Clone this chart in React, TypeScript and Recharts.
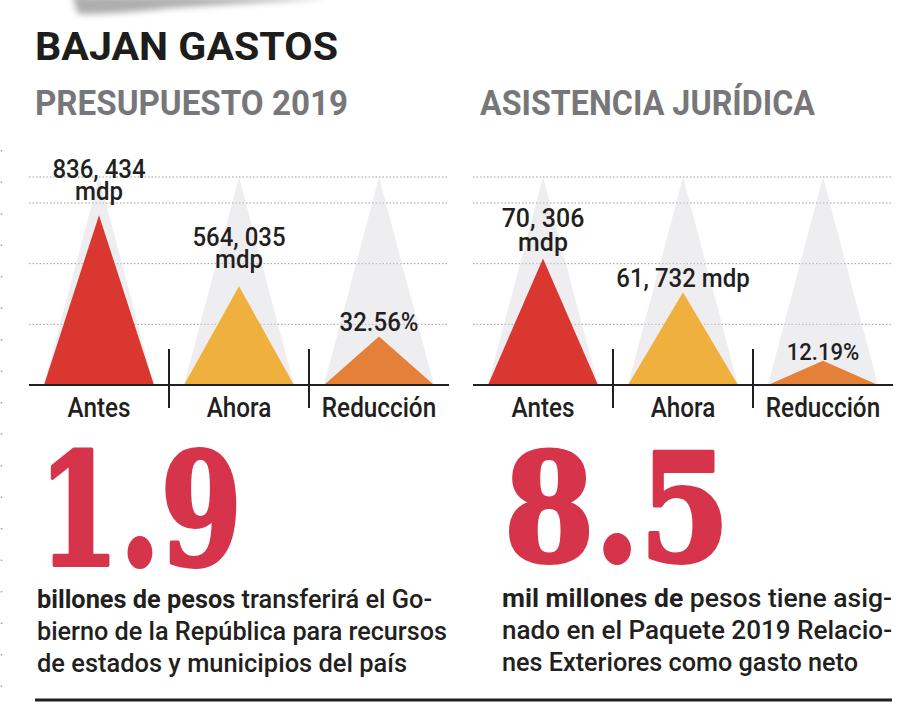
import { Bar, BarChart, CartesianGrid, LabelList, XAxis, YAxis } from 'recharts';

// Categorías compartidas por los dos paneles
const categorias = ['Antes', 'Ahora', 'Reducción'];

// Presupuesto 2019
const presupuestoValores = [836434, 564035, 32.56];
const presupuestoEtiquetas = [['836, 434', 'mdp'], ['564, 035', 'mdp'], ['32.56%']];
const presupuestoAltura = [98, 57, 28];

// Asistencia jurídica
const asistenciaValores = [70306, 61732, 12.19];
const asistenciaEtiquetas = [['70, 306', 'mdp'], ['61, 732 mdp'], ['12.19%']];
const asistenciaAltura = [73, 53.5, 14];

// escala visual (el triángulo gris llega al tope)
const escalaMax = 120;
const lineasGuia = [35, 70, 105];

const colores = ['#d9372f', '#efb03e', '#e48037'];
const FUENTE = "Roboto, 'DejaVu Sans', sans-serif";
const SERIF = "'DejaVu Serif', 'Liberation Serif', serif";
const TINTA = '#231f20';
const BANDA = 140;

function Triangulo(props: any) {
  const { x, y, width, height, fill, opacity } = props;
  if (!width || height == null) return null;
  const d = `M${x},${y + height} L${x + width / 2},${y} L${x + width},${y + height} Z`;
  return <path d={d} fill={fill} opacity={opacity} />;
}

function TickCategoria(props: any) {
  const { x, y, payload, index } = props;
  return (
    <g>
      {index > 0 && (
        <line x1={x - BANDA / 2} x2={x - BANDA / 2} y1={y - 36} y2={y + 23} stroke={TINTA} strokeWidth={2} />
      )}
      <text
        transform={`translate(${x} ${y + 32}) scale(0.9 1)`}
        textAnchor="middle"
        fontSize={27}
        fontWeight={500}
        fontFamily={FUENTE}
        fill={TINTA}
      >
        {payload.value}
      </text>
    </g>
  );
}

interface PanelProps {
  valores: number[];
  alturas: number[];
  etiquetas: string[][];
  separacion: number[];
  tamanos: number[];
  interlinea: number;
  margenIzq: number;
  ancho: number;
}

function Panel({ valores, alturas, etiquetas, separacion, tamanos, interlinea, margenIzq, ancho }: PanelProps) {
  const datos = categorias.map((c, i) => ({ categoria: c, valor: valores[i], altura: alturas[i] }));

  const renderEtiqueta = (p: any) => {
    const { x, y, width, index } = p;
    const lineas = etiquetas[index];
    const cx = x + width / 2;
    const base = y - separacion[index];
    return (
      <g>
        {lineas.map((t, k) => (
          <text
            key={k}
            transform={`translate(${cx} ${base - (lineas.length - 1 - k) * interlinea}) scale(0.96 1)`}
            textAnchor="middle"
            fontSize={tamanos[index]}
            fontWeight={500}
            fontFamily={FUENTE}
            fill={TINTA}
          >
            {t}
          </text>
        ))}
      </g>
    );
  };

  return (
    <BarChart
      width={ancho}
      height={280}
      data={datos}
      margin={{ top: 27, right: ancho - margenIzq - 3 * BANDA, bottom: 5, left: margenIzq }}
      barSize={110}
    >
      <CartesianGrid horizontal vertical={false} stroke="#9b9b9b" strokeDasharray="1.5 2" />
      <YAxis hide type="number" domain={[0, escalaMax]} ticks={lineasGuia} />
      <XAxis
        dataKey="categoria"
        height={40}
        tickSize={0}
        tickMargin={0}
        tickLine={false}
        axisLine={{ stroke: TINTA, strokeWidth: 2 }}
        tick={(p: any) => <TickCategoria {...p} />}
        interval={0}
      />
      <Bar
        dataKey="altura"
        isAnimationActive={false}
        background={(p: any) => <Triangulo {...p} fill="#d9d9de" opacity={0.45} />}
        shape={(p: any) => <Triangulo {...p} fill={colores[p.index]} />}
      >
        <LabelList dataKey="altura" content={renderEtiqueta} />
      </Bar>
    </BarChart>
  );
}

export default function App() {
  return (
    <div
      style={{
        position: 'absolute',
        left: 0,
        top: 0,
        width: 900,
        height: 706,
        background: '#fff',
        overflow: 'hidden',
        fontFamily: FUENTE,
      }}
    >
      <div style={{ position: 'absolute', left: 0, top: 150 }}>
        <Panel
          valores={presupuestoValores}
          alturas={presupuestoAltura}
          etiquetas={presupuestoEtiquetas}
          separacion={[15, 18, 5]}
          tamanos={[25, 25, 25]}
          interlinea={22}
          margenIzq={29}
          ancho={460}
        />
      </div>
      <div style={{ position: 'absolute', left: 460, top: 150 }}>
        <Panel
          valores={asistenciaValores}
          alturas={asistenciaAltura}
          etiquetas={asistenciaEtiquetas}
          separacion={[7, 5, 1]}
          tamanos={[26, 25, 23]}
          interlinea={24}
          margenIzq={13}
          ancho={440}
        />
      </div>

      <svg width={900} height={706} style={{ position: 'absolute', left: 0, top: 0, pointerEvents: 'none' }}>
        <defs>
          <filter id="sombra" x="-20%" y="-100%" width="140%" height="300%">
            <feGaussianBlur stdDeviation="3" />
          </filter>
        </defs>
        <path d="M72,-4 L78,14 Q110,15 170,8 L330,-2 Z" fill="#9a9a9a" filter="url(#sombra)" opacity={0.8} />
        <line x1={1.5} x2={1.5} y1={150} y2={706} stroke="#666" strokeDasharray="1.5 30" strokeWidth={1.5} opacity={0.6} />

        <text x={35} y={60} fontSize={39} fontWeight={700} fill="#1d1d1b" fontFamily={FUENTE} textLength={303} lengthAdjust="spacingAndGlyphs">
          BAJAN GASTOS
        </text>
        <text x={35} y={115} fontSize={35} fontWeight={700} fill="#77777a" fontFamily={FUENTE} textLength={313} lengthAdjust="spacingAndGlyphs">
          PRESUPUESTO 2019
        </text>
        <text x={480} y={115} fontSize={35} fontWeight={700} fill="#77777a" fontFamily={FUENTE} textLength={335} lengthAdjust="spacingAndGlyphs">
          ASISTENCIA JURÍDICA
        </text>

        <text x={38} y={565} fontSize={156} fontWeight={700} fill="#d6344b" stroke="#d6344b" strokeWidth={4} strokeLinejoin="round" fontFamily={SERIF} textLength={204} lengthAdjust="spacingAndGlyphs">
          1.9
        </text>
        <text x={504} y={561} fontSize={150} fontWeight={700} fill="#d6344b" stroke="#d6344b" strokeWidth={4} strokeLinejoin="round" fontFamily={SERIF} textLength={226} lengthAdjust="spacingAndGlyphs">
          8.5
        </text>

        <g fontSize={26} fontWeight={500} fontFamily={FUENTE} fill={TINTA}>
          <text x={37} y={608} textLength={395} lengthAdjust="spacingAndGlyphs">
            <tspan fontWeight={700}>billones de pesos</tspan> transferirá el Go-
          </text>
          <text x={37} y={640} textLength={410} lengthAdjust="spacingAndGlyphs">bierno de la República para recursos</text>
          <text x={37} y={672} textLength={370} lengthAdjust="spacingAndGlyphs">de estados y municipios del país</text>

          <text x={502} y={607} textLength={390} lengthAdjust="spacingAndGlyphs">
            <tspan fontWeight={700}>mil millones de</tspan> pesos tiene asig-
          </text>
          <text x={502} y={639} textLength={390} lengthAdjust="spacingAndGlyphs">nado en el Paquete 2019 Relacio-</text>
          <text x={502} y={671} textLength={356} lengthAdjust="spacingAndGlyphs">nes Exteriores como gasto neto</text>
        </g>

        <line x1={35} x2={892} y1={700} y2={700} stroke={TINTA} strokeWidth={3} />
      </svg>
    </div>
  );
}
